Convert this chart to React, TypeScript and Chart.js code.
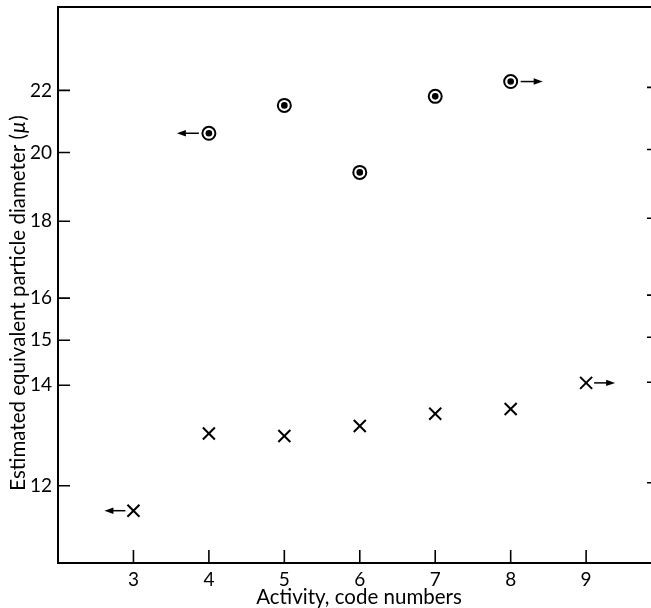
import { useEffect, useRef } from "react";
import { Chart, registerables } from "chart.js";

Chart.register(...registerables);

// Activity code numbers (x) and estimated equivalent particle diameter in μ (y)
const circleCodes = [4, 5, 6, 7, 8];
const circleDiameters = [20.6, 21.5, 19.4, 21.8, 22.3];
const circleArrows = [-1, 0, 0, 0, 1];

const crossCodes = [3, 4, 5, 6, 7, 8, 9];
const crossDiameters = [11.55, 13.0, 12.95, 13.15, 13.4, 13.5, 14.05];
const crossArrows = [-1, 0, 0, 0, 0, 0, 1];

const xTickValues = [3, 4, 5, 6, 7, 8, 9];
const yTickValues = [12, 14, 15, 16, 18, 20, 22];

const xTitle = "Activity, code numbers";
const yTitleMain = "Estimated equivalent particle diameter (";
const yTitleUnit = "μ";
const yTitleEnd = ")";

const FONT = "Lato, 'Open Sans', sans-serif";

export default function App() {
  const ref = useRef<HTMLCanvasElement | null>(null);

  useEffect(() => {
    const canvas = ref.current;
    if (!canvas) return;

    const decorPlugin = {
      id: "decor",
      afterDraw(chart: any) {
        const { ctx, chartArea } = chart;
        const xs = chart.scales.x;
        const ys = chart.scales.y;
        ctx.save();
        ctx.strokeStyle = "#000";
        ctx.fillStyle = "#000";

        // top frame line
        ctx.lineWidth = 2;
        ctx.beginPath();
        ctx.moveTo(chartArea.left, chartArea.top);
        ctx.lineTo(chartArea.right, chartArea.top);
        ctx.stroke();

        // inward ticks on the left and right
        ctx.lineWidth = 1.6;
        ctx.beginPath();
        yTickValues.forEach((v) => {
          const py = ys.getPixelForValue(v);
          ctx.moveTo(chartArea.left, py);
          ctx.lineTo(chartArea.left + 12, py);
          ctx.moveTo(chartArea.right - 4, py - 3);
          ctx.lineTo(chartArea.right, py - 3);
        });
        ctx.stroke();

        // inward ticks on the bottom
        ctx.beginPath();
        xTickValues.forEach((v) => {
          const px = xs.getPixelForValue(v);
          ctx.moveTo(px, chartArea.bottom);
          ctx.lineTo(px, chartArea.bottom - 13);
        });
        ctx.stroke();

        // arrows beside some points
        const drawArrows = (dsIndex: number, dirs: number[], gap: number, len: number) => {
          const meta = chart.getDatasetMeta(dsIndex);
          meta.data.forEach((el: any, i: number) => {
            const d = dirs[i];
            if (!d) return;
            const x0 = el.x + d * gap;
            const x1 = el.x + d * (gap + len);
            const y = el.y;
            ctx.lineWidth = 1.5;
            ctx.beginPath();
            ctx.moveTo(x0, y);
            ctx.lineTo(x1 - d * 4, y);
            ctx.stroke();
            ctx.beginPath();
            ctx.moveTo(x1, y);
            ctx.lineTo(x1 - d * 9, y - 3.2);
            ctx.lineTo(x1 - d * 9, y + 3.2);
            ctx.closePath();
            ctx.fill();
          });
        };
        drawArrows(0, circleArrows, 10, 22);
        drawArrows(2, crossArrows, 8, 21);

        // x axis title
        ctx.textAlign = "center";
        ctx.textBaseline = "middle";
        ctx.font = `20.5px ${FONT}`;
        ctx.fillText(xTitle, 359, 597);

        // y axis title with italic unit
        ctx.translate(18, 303);
        ctx.rotate(-Math.PI / 2);
        ctx.textBaseline = "middle";
        ctx.textAlign = "left";
        ctx.font = `20.5px ${FONT}`;
        const w1 = ctx.measureText(yTitleMain).width;
        const w3 = ctx.measureText(yTitleEnd).width;
        ctx.font = `italic 20.5px ${FONT}`;
        const w2 = ctx.measureText(yTitleUnit).width + 2;
        let cx = -(w1 + w2 + w3) / 2;
        ctx.font = `20.5px ${FONT}`;
        ctx.fillText(yTitleMain, cx, 0);
        cx += w1;
        ctx.font = `italic 20.5px ${FONT}`;
        ctx.fillText(yTitleUnit, cx + 1, 0);
        cx += w2;
        ctx.font = `20.5px ${FONT}`;
        ctx.fillText(yTitleEnd, cx, 0);
        ctx.restore();
      },
    };

    const chart = new Chart(canvas, {
      type: "scatter",
      data: {
        datasets: [
          {
            label: "rings",
            data: circleCodes.map((x, i) => ({ x, y: circleDiameters[i] })),
            pointStyle: "circle",
            pointRadius: 6.5,
            pointBorderWidth: 2,
            pointBorderColor: "#000",
            pointBackgroundColor: "rgba(0,0,0,0)",
          },
          {
            label: "dots",
            data: circleCodes.map((x, i) => ({ x, y: circleDiameters[i] })),
            pointStyle: "circle",
            pointRadius: 3.3,
            pointBorderWidth: 0,
            pointBackgroundColor: "#000",
          },
          {
            label: "crosses",
            data: crossCodes.map((x, i) => ({ x, y: crossDiameters[i] })),
            pointStyle: "crossRot",
            pointRadius: 8.5,
            pointBorderWidth: 2,
            pointBorderColor: "#000",
          },
        ],
      },
      plugins: [decorPlugin],
      options: {
        animation: false,
        responsive: false,
        devicePixelRatio: 1,
        layout: { autoPadding: false, padding: { top: 7, left: 0, right: 0, bottom: 0 } },
        plugins: { legend: { display: false }, tooltip: { enabled: false } },
        scales: {
          x: {
            type: "linear",
            min: 2,
            max: 9.86,
            grid: { display: false, drawTicks: false },
            border: { display: true, color: "#000", width: 2 },
            ticks: {
              color: "#000",
              padding: 5,
              font: { family: FONT, size: 19 },
              callback: (v: any) => String(v),
            },
            afterBuildTicks: (scale: any) => {
              scale.ticks = xTickValues.map((value) => ({ value }));
            },
            afterFit: (scale: any) => {
              scale.height = 45;
              scale.paddingLeft = 0;
              scale.paddingRight = 0;
            },
            title: { display: false },
          },
          y: {
            type: "logarithmic",
            min: 10.66,
            max: 25,
            grid: { display: false, drawTicks: false },
            border: { display: true, color: "#000", width: 2 },
            ticks: {
              color: "#000",
              padding: 6,
              font: { family: FONT, size: 19 },
              callback: (v: any) => String(v),
            },
            afterBuildTicks: (scale: any) => {
              scale.ticks = yTickValues.map((value) => ({ value }));
            },
            afterFit: (scale: any) => {
              scale.width = 58;
              scale.paddingTop = 0;
              scale.paddingBottom = 0;
            },
          },
        },
      },
    } as any);

    return () => chart.destroy();
  }, []);

  return (
    <div
      style={{
        position: "fixed",
        left: 0,
        top: 0,
        width: 651,
        height: 608,
        background: "#fff",
      }}
    >
      <canvas ref={ref} width={651} height={608} style={{ display: "block" }} />
    </div>
  );
}
